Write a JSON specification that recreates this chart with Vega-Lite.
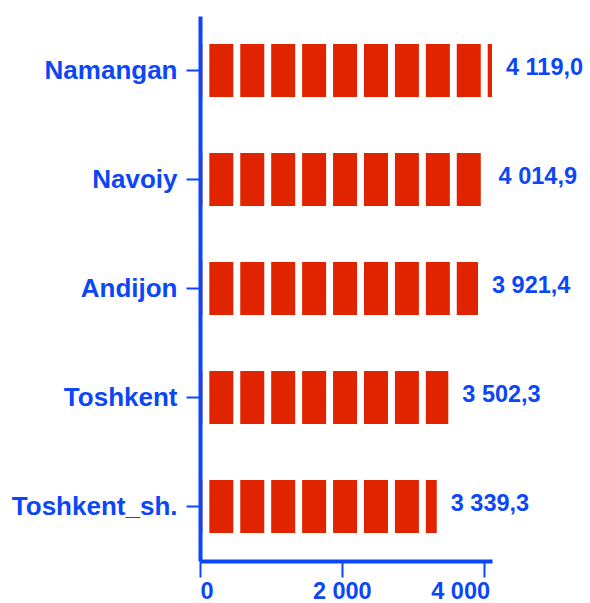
{
  "$schema": "https://vega.github.io/schema/vega-lite/v6.json",
  "width": 292,
  "height": 545,
  "autosize": "none",
  "padding": {"left": 200, "top": 16, "right": 98, "bottom": 42},
  "config": {
    "locale": {"number": {"decimal": ",", "thousands": " ", "grouping": [3], "currency": ["", ""]}},
    "view": {"stroke": null},
    "font": "Liberation Sans"
  },
  "data": {
    "values": [
      {"region": "Namangan", "value": 4119.0},
      {"region": "Navoiy", "value": 4014.9},
      {"region": "Andijon", "value": 3921.4},
      {"region": "Toshkent", "value": 3502.3},
      {"region": "Toshkent_sh.", "value": 3339.3}
    ]
  },
  "encoding": {
    "y": {
      "field": "region",
      "type": "nominal",
      "sort": null,
      "axis": {
        "title": null,
        "zindex": 1,
        "domainColor": "#0b47f6",
        "domainWidth": 4,
        "tickColor": "#0b47f6",
        "tickWidth": 2,
        "tickSize": 14,
        "labelColor": "#0b47f6",
        "labelFont": "Liberation Sans",
        "labelFontWeight": "bold",
        "labelFontSize": 26,
        "labelPadding": 9
      }
    },
    "x": {
      "field": "value",
      "type": "quantitative",
      "scale": {"domain": [0, 4119], "nice": false, "zero": true},
      "axis": {
        "title": null,
        "zindex": 1,
        "grid": false,
        "values": [0, 2000, 4000],
        "format": ",.0f",
        "domainColor": "#0b47f6",
        "domainWidth": 4,
        "tickColor": "#0b47f6",
        "tickWidth": 2,
        "tickSize": 16,
        "labelColor": "#0b47f6",
        "labelFont": "Liberation Sans",
        "labelFontWeight": "bold",
        "labelFontSize": 23.5,
        "labelPadding": 2,
        "labelFlush": 10,
        "labelOffset": {"condition": {"test": "datum.value == 4000", "value": 6}, "value": 0}
      }
    }
  },
  "layer": [
    {
      "mark": {
        "type": "rule",
        "strokeWidth": 53,
        "color": "#e02400",
        "strokeDash": [24, 6.93],
        "strokeDashOffset": {"expr": "2.4 - (scale('x', datum.value) - scale('x', 0))"},
        "strokeCap": "butt"
      },
      "encoding": {
        "x2": {"datum": 0}
      }
    },
    {
      "mark": {
        "type": "text",
        "align": "left",
        "baseline": "middle",
        "dx": 14,
        "dy": -3,
        "font": "Liberation Sans",
        "fontWeight": "bold",
        "fontSize": 23.5,
        "color": "#0b47f6"
      },
      "encoding": {
        "text": {"field": "value", "type": "quantitative", "format": ",.1f"}
      }
    }
  ]
}
